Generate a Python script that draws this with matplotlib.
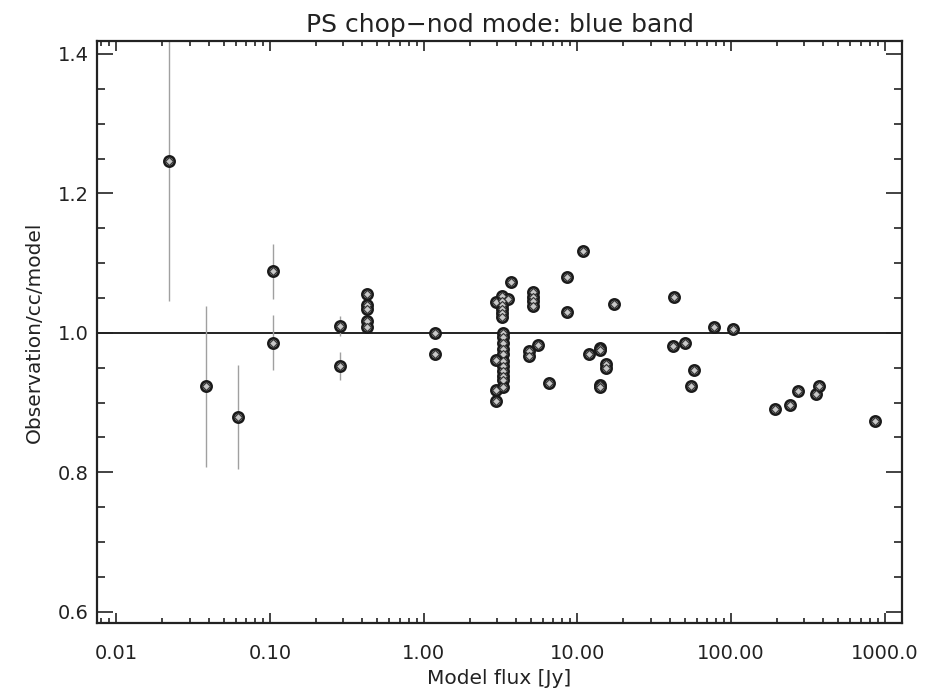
import matplotlib
matplotlib.use('Agg')
import matplotlib.pyplot as plt
from matplotlib.ticker import MultipleLocator, LogLocator, NullFormatter
import numpy as np

# model flux [Jy], observed/cc/model ratio, 1-sigma error
flux = [0.022, 0.0384, 0.0623, 0.105, 0.105, 0.286, 0.285,
        0.426, 0.426, 0.426, 0.426, 0.426,
        1.186, 1.186,
        2.96, 3.22, 3.56, 3.69,
        3.25, 3.25, 3.25, 3.25, 3.25,
        3.3, 3.3,
        3.3, 3.3, 3.3, 3.3, 3.3, 3.3, 3.3, 3.3,
        2.96, 2.96, 2.96, 3.30,
        5.17, 5.17, 5.17, 5.17,
        4.87, 4.87, 5.57, 6.57,
        8.53, 8.53, 10.94, 11.97,
        14.05, 14.05, 14.05, 14.05, 15.37, 15.37, 17.33,
        42.6, 42.1, 50.2, 57.4, 54.9, 77.5, 102.5,
        193, 241, 273, 356, 375, 869]
ratio = [1.246, 0.923, 0.879, 1.088, 0.986, 1.010, 0.952,
         1.056, 1.040, 1.034, 1.017, 1.009,
         0.999, 0.970,
         1.044, 1.053, 1.049, 1.073,
         1.046, 1.040, 1.034, 1.028, 1.022,
         1.000, 0.994,
         0.985, 0.977, 0.969, 0.960, 0.952, 0.945, 0.938, 0.932,
         0.961, 0.918, 0.902, 0.922,
         1.058, 1.052, 1.045, 1.039,
         0.974, 0.966, 0.983, 0.928,
         1.080, 1.030, 1.118, 0.969,
         0.978, 0.975, 0.925, 0.922, 0.955, 0.950, 1.042,
         1.051, 0.981, 0.985, 0.946, 0.923, 1.009, 1.006,
         0.891, 0.897, 0.916, 0.912, 0.923, 0.873]
err = [0.200, 0.115, 0.075, 0.039, 0.039, 0.014, 0.020]
err = err + [0.0] * (len(flux) - len(err))

xticks = [0.01, 0.1, 1, 10, 100, 1000]
xticklabels = ['0.01', '0.10', '1.00', '10.00', '100.00', '1000.0']
yticks = [0.6, 0.8, 1.0, 1.2, 1.4]
yticklabels = ['0.6', '0.8', '1.0', '1.2', '1.4']

plt.rcParams['font.family'] = ['DejaVu Sans']
txt = '#222222'

fig = plt.figure(figsize=(9.25, 6.91), dpi=100)
ax = fig.add_axes([0.1049, 0.0977, 0.8703, 0.8434])

flux = np.array(flux)
ratio = np.array(ratio)
err = np.array(err)
has_err = err > 0
ax.vlines(flux[has_err], ratio[has_err] - err[has_err], ratio[has_err] + err[has_err],
          color='#a0a0a0', lw=1.0, zorder=2)

ax.axhline(1.0, color='#111111', lw=1.3, zorder=1)

ax.plot(flux, ratio, ls='none', marker='o', ms=7.5, mfc='#8a8a8a', mec='#1a1a1a',
        mew=1.8, zorder=3)
ax.plot(flux, ratio, ls='none', marker='D', ms=4.5, mfc='#c8c8c8', mec='#333333',
        mew=0.8, zorder=4)

ax.set_xscale('log')
ax.set_xlim(0.0075, 1300)
ax.set_ylim(0.583, 1.419)

ax.set_xticks(xticks)
ax.set_xticklabels(xticklabels)
ax.xaxis.set_minor_locator(LogLocator(base=10, subs=np.arange(2, 10)))
ax.xaxis.set_minor_formatter(NullFormatter())
ax.set_yticks(yticks)
ax.set_yticklabels(yticklabels)
ax.yaxis.set_minor_locator(MultipleLocator(0.05))

ax.tick_params(which='both', direction='in', top=True, right=True,
               colors='#222222', labelcolor=txt, labelsize=14, width=1.2)
ax.tick_params(axis='x', which='major', length=7.5, pad=15)
ax.tick_params(axis='x', which='minor', length=3.8)
ax.tick_params(axis='y', which='major', length=11.5, pad=6)
ax.tick_params(axis='y', which='minor', length=5.5)

for s in ax.spines.values():
    s.set_linewidth(1.6)
    s.set_color('#222222')

ax.set_xlabel('Model flux [Jy]', fontsize=14.5, color=txt, labelpad=4)
ax.set_ylabel('Observation/cc/model', fontsize=14.5, color=txt, labelpad=10)
ax.set_title('PS chop\u2212nod mode: blue band', fontsize=18, color=txt, pad=6)

fig.savefig('out.png', dpi=100)
